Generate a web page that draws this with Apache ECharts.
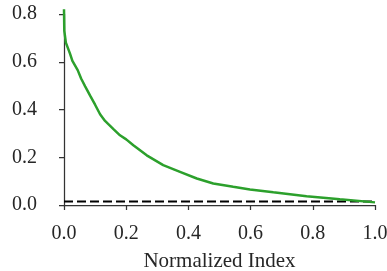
<!DOCTYPE html>
<html>
<head>
<meta charset="utf-8">
<script src="https://cdn.jsdelivr.net/npm/echarts@6/dist/echarts.min.js"></script>
<style>
  html, body { margin: 0; padding: 0; background: #fff; }
  #chart { width: 387px; height: 271px; }
</style>
</head>
<body>
<div id="chart"></div>
<script>
// curve (normalized index vs value)
var curveX = [0, 0.001, 0.006, 0.019, 0.027, 0.044, 0.055, 0.068, 0.084, 0.1, 0.116, 0.132,
              0.159, 0.18, 0.2, 0.223, 0.266, 0.319, 0.373, 0.427, 0.48, 0.544, 0.598,
              0.673, 0.78, 0.887, 1.0];
var curveY = [0.82, 0.729, 0.68, 0.635, 0.604, 0.565, 0.53, 0.497, 0.458, 0.42, 0.38, 0.352,
              0.318, 0.292, 0.275, 0.25, 0.208, 0.167, 0.139, 0.111, 0.09, 0.076, 0.065,
              0.053, 0.037, 0.024, 0.011];
var baselineX = [0, 1];
var baselineY = [0.015, 0.015];
var xTicks = [0, 0.2, 0.4, 0.6, 0.8, 1.0];
var yTicks = [0, 0.2, 0.4, 0.6, 0.8];

function pairs(xs, ys) {
    return xs.map(function (x, i) { return [x, ys[i]]; });
}

var axisColor = '#333333';
var font = "'Liberation Serif', 'Times New Roman', serif";
var textColor = '#262626';

var chart = echarts.init(document.getElementById('chart'));
var option = {
    animation: false,
    grid: { left: 64, right: 12, top: 14, bottom: 66, containLabel: false, outerBoundsMode: 'none' },
    xAxis: {
        type: 'value',
        min: xTicks[0],
        max: xTicks[xTicks.length - 1],
        interval: 0.2,
        offset: 8,
        name: 'Normalized Index',
        nameLocation: 'middle',
        nameGap: 38,
        nameTextStyle: { fontFamily: font, fontSize: 21, color: textColor },
        axisLine: { show: true, lineStyle: { color: axisColor, width: 1.25 } },
        axisTick: { show: true, length: 5, lineStyle: { color: axisColor, width: 1.25 } },
        axisLabel: {
            margin: 11,
            fontFamily: font, fontSize: 20, color: textColor,
            formatter: function (v) { return v.toFixed(1); }
        },
        splitLine: { show: false }
    },
    yAxis: {
        type: 'value',
        min: yTicks[0],
        max: yTicks[yTicks.length - 1],
        interval: 0.2,
        offset: 15,
        axisLine: { show: true, lineStyle: { color: axisColor, width: 1.25 } },
        axisTick: { show: true, length: 5, lineStyle: { color: axisColor, width: 1.25 } },
        axisLabel: {
            margin: 12,
            fontFamily: font, fontSize: 20, color: textColor,
            formatter: function (v) { return v.toFixed(1); }
        },
        splitLine: { show: false }
    },
    series: [
        {
            type: 'line',
            data: pairs(baselineX, baselineY),
            showSymbol: false,
            lineStyle: { color: '#000', width: 2, type: [9, 4] },
            z: 2
        },
        {
            type: 'line',
            data: pairs(curveX, curveY),
            showSymbol: false,
            clip: false,
            lineStyle: { color: '#2ca02c', width: 2.5 },
            z: 3
        }
    ]
};
chart.setOption(option);
</script>
</body>
</html>
